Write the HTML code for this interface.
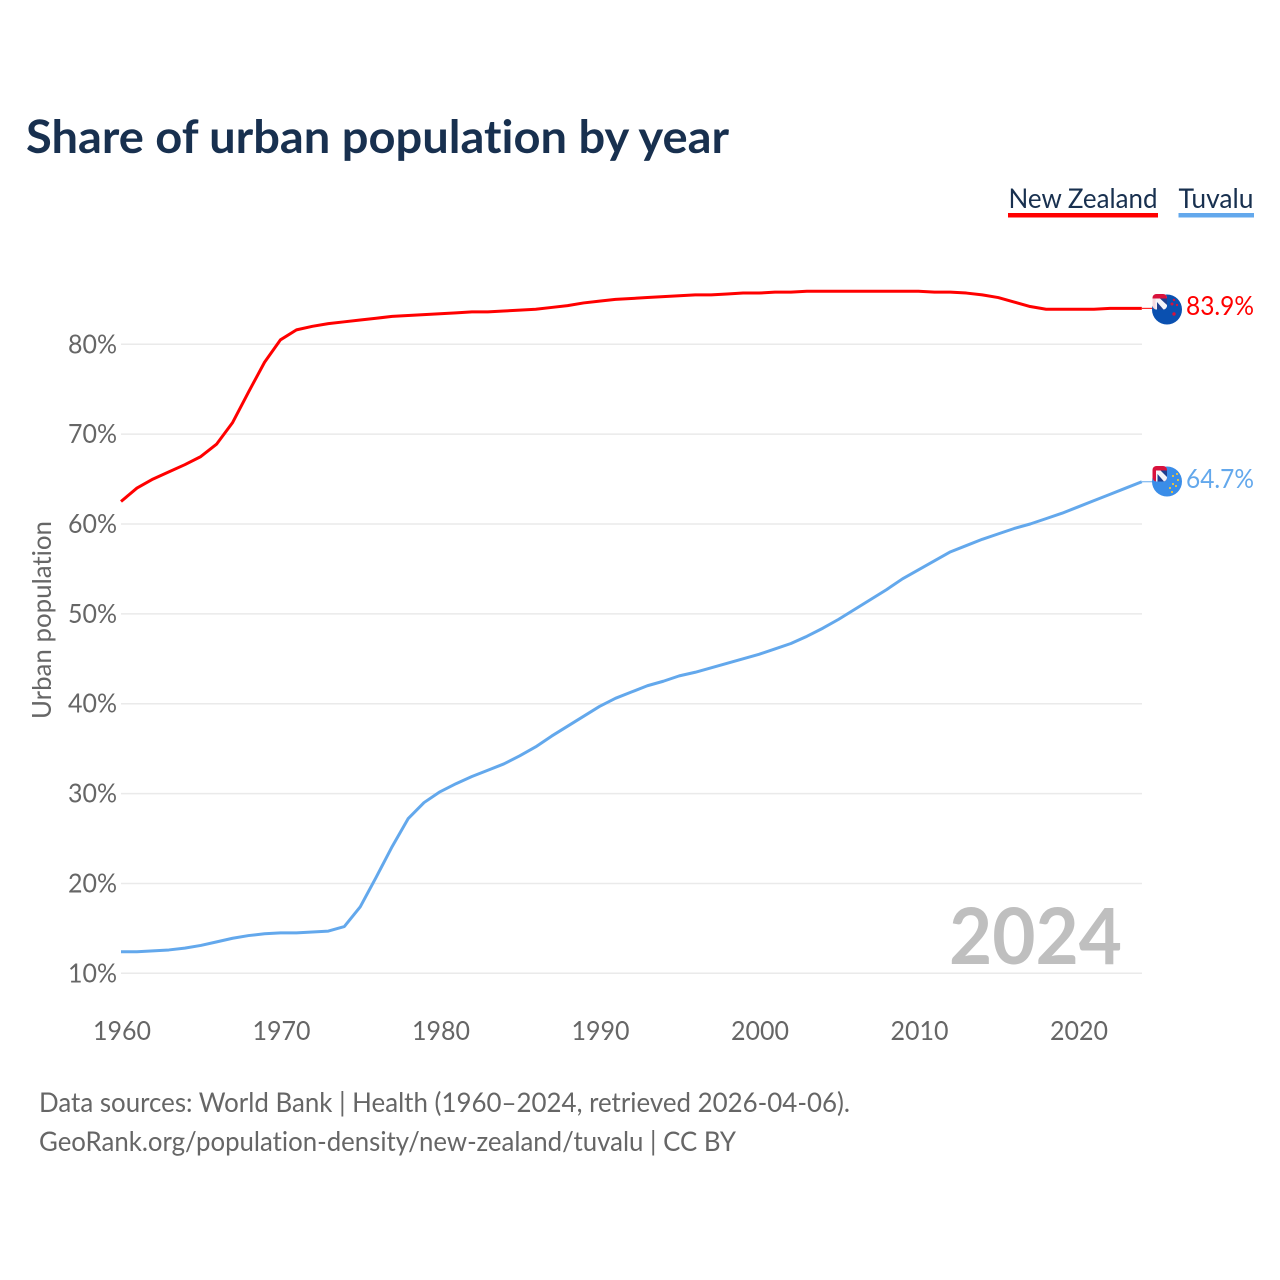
<!DOCTYPE html>
<html><head><meta charset="utf-8"><title>Share of urban population by year</title>
<style>
html,body{margin:0;padding:0;background:#fff}
svg{display:block}
text{font-family:"Lato","Carlito","Liberation Sans",sans-serif;font-variant-ligatures:none}
</style></head>
<body>
<svg id="chart" width="1280" height="1280" viewBox="0 0 1280 1280" xmlns="http://www.w3.org/2000/svg">
<rect width="1280" height="1280" fill="#fff"/>
<text x="26" y="153" font-size="46" font-weight="700" fill="#18304f" textLength="703" lengthAdjust="spacingAndGlyphs">Share of urban population by year</text>
<g>
<text x="1008.5" y="208" font-size="27" fill="#18304f" textLength="149" lengthAdjust="spacingAndGlyphs">New Zealand</text>
<rect x="1008" y="213" width="150" height="4.5" fill="#ff0000"/>
</g>
<g>
<text x="1178.5" y="208" font-size="27" fill="#18304f" textLength="75" lengthAdjust="spacingAndGlyphs">Tuvalu</text>
<rect x="1178.5" y="213" width="75.5" height="4.5" fill="#63a8ec"/>
</g>
<g id="grid"></g>
<g id="yticks"></g>
<g id="xticks"></g>
<text transform="translate(51,719) rotate(-90)" font-size="26" fill="#666" textLength="198" lengthAdjust="spacingAndGlyphs">Urban population</text>
<text x="1122" y="964" text-anchor="end" font-size="78" font-weight="700" fill="#bfbfbf" textLength="173" lengthAdjust="spacingAndGlyphs">2024</text>
<g id="series"></g>
<defs>
<clipPath id="nz-canton-clip"><rect x="1152.5" y="294" width="14.5" height="15.5" rx="4"/></clipPath>
<clipPath id="tv-canton-clip"><rect x="1152.5" y="466" width="14.5" height="15.5" rx="4"/></clipPath>
</defs>
<g>
<circle cx="1167" cy="309.5" r="15" fill="#0a50b0"/>
<g clip-path="url(#nz-canton-clip)">
<rect x="1152" y="294" width="15" height="16" fill="#f6d8de"/>
<rect x="1152" y="294" width="15" height="4.5" fill="#d8123c"/>
<rect x="1155.5" y="298.5" width="12" height="11" fill="#f4f4f8"/>
<polygon points="1160,298.5 1167,298.5 1167,305" fill="#1f3f8f"/>
<polygon points="1157,302 1157,309.5 1163.5,309.5" fill="#1f3f8f"/>
</g>
<circle cx="1172" cy="304" r="1.5" fill="#d8123c"/>
<circle cx="1177" cy="305" r="1.2" fill="#d8123c"/>
<circle cx="1174" cy="300" r="1.2" fill="#d8123c"/>
<circle cx="1174" cy="314" r="1.7" fill="#d8123c"/>
</g>
<g>
<circle cx="1167" cy="481.5" r="15" fill="#3a8de8"/>
<g clip-path="url(#tv-canton-clip)">
<rect x="1152" y="466" width="15" height="16" fill="#d8123c"/>
<rect x="1156" y="470.5" width="11.5" height="11" fill="#f4f4f8"/>
<polygon points="1160.5,470.5 1167,470.5 1167,477" fill="#1f3f8f"/>
<polygon points="1157.5,474 1157.5,481.5 1164,481.5" fill="#1f3f8f"/>
</g>
<rect x="1176" y="473" width="2" height="2" fill="#e2bf45"/>
<rect x="1172" y="475" width="2" height="2" fill="#e2bf45"/>
<rect x="1177" y="479" width="2" height="2" fill="#e2bf45"/>
<rect x="1172" y="483" width="2" height="2" fill="#e2bf45"/>
<rect x="1175" y="485" width="2" height="2" fill="#e2bf45"/>
<rect x="1169" y="487" width="2" height="2" fill="#e2bf45"/>
<rect x="1171" y="491" width="2" height="2" fill="#e2bf45"/>
</g>
<text x="1186" y="315" font-size="26" fill="#ff0000" textLength="68" lengthAdjust="spacingAndGlyphs">83.9%</text>
<text x="1186" y="488" font-size="26" fill="#63a8ec" textLength="68" lengthAdjust="spacingAndGlyphs">64.7%</text>
<text x="39" y="1112" font-size="27" fill="#666" textLength="811" lengthAdjust="spacingAndGlyphs">Data sources: World Bank | Health (1960–2024, retrieved 2026-04-06).</text>
<text x="39" y="1151" font-size="27" fill="#666" textLength="697" lengthAdjust="spacingAndGlyphs">GeoRank.org/population-density/new-zealand/tuvalu | CC BY</text>
</svg>
<script>
const startYear = 1960;
const newZealand = [62.5,64.0,65.0,65.8,66.6,67.5,68.9,71.3,74.7,78.0,80.5,81.6,82.0,82.3,82.5,82.7,82.9,83.1,83.2,83.3,83.4,83.5,83.6,83.6,83.7,83.8,83.9,84.1,84.3,84.6,84.8,85.0,85.1,85.2,85.3,85.4,85.5,85.5,85.6,85.7,85.7,85.8,85.8,85.9,85.9,85.9,85.9,85.9,85.9,85.9,85.9,85.8,85.8,85.7,85.5,85.2,84.7,84.2,83.9,83.9,83.9,83.9,84.0,84.0,84.0];
const tuvalu = [12.4,12.4,12.5,12.6,12.8,13.1,13.5,13.9,14.2,14.4,14.5,14.5,14.6,14.7,15.2,17.4,20.7,24.1,27.2,29.0,30.2,31.1,31.9,32.6,33.3,34.2,35.2,36.4,37.5,38.6,39.7,40.6,41.3,42.0,42.5,43.1,43.5,44.0,44.5,45.0,45.5,46.1,46.7,47.5,48.4,49.4,50.5,51.6,52.7,53.9,54.9,55.9,56.9,57.6,58.3,58.9,59.5,60.0,60.6,61.2,61.9,62.6,63.3,64.0,64.7];
const yTicks = [10,20,30,40,50,60,70,80];
const xTicks = [1960,1970,1980,1990,2000,2010,2020];
const NS = 'http://www.w3.org/2000/svg';
function xPos(year){ return 121 + (year - 1960) * 15.95; }
function yPos(v){ return 973.3 - (v - 10) * 8.986; }
function make(tag, attrs, parent){
  const el = document.createElementNS(NS, tag);
  for (const k in attrs) el.setAttribute(k, attrs[k]);
  parent.appendChild(el);
  return el;
}
const grid = document.getElementById('grid');
const yG = document.getElementById('yticks');
const xG = document.getElementById('xticks');
const seriesG = document.getElementById('series');
yTicks.forEach(function(t){
  const line = make('line', {x1:121, x2:1142, y1:yPos(t), y2:yPos(t), stroke:'#eaeaea', 'stroke-width':1.5}, grid);
  
  
  const label = make('text', {x:117, y:yPos(t)+9, 'text-anchor':'end', 'font-size':26, fill:'#666', textLength:49, lengthAdjust:'spacingAndGlyphs'}, yG);
  
  
  label.textContent = t + '%';
});
xTicks.forEach(function(t){
  const label = make('text', {x:xPos(t)+1, y:1040, 'text-anchor':'middle', 'font-size':26, fill:'#666', textLength:58, lengthAdjust:'spacingAndGlyphs'}, xG);
  
  
  label.textContent = t;
});
function linePath(values){
  return values.map(function(v, i){
    return (i ? 'L' : 'M') + xPos(startYear + i).toFixed(2) + ' ' + yPos(v).toFixed(2);
  }).join('');
}
const nzLine = make('path', {d:linePath(newZealand), fill:'none', stroke:'#ff0000', 'stroke-width':3, 'stroke-linejoin':'round'}, seriesG);


const tvLine = make('path', {d:linePath(tuvalu), fill:'none', stroke:'#63a8ec', 'stroke-width':3, 'stroke-linejoin':'round'}, seriesG);


const nzLead = make('line', {x1:xPos(2024), x2:1153, y1:yPos(newZealand[64]), y2:yPos(newZealand[64]), stroke:'#ff0000', 'stroke-width':1}, seriesG);


const tvLead = make('line', {x1:xPos(2024), x2:1153, y1:yPos(tuvalu[64]), y2:yPos(tuvalu[64]), stroke:'#63a8ec', 'stroke-width':1}, seriesG);


</script>
</body></html>
